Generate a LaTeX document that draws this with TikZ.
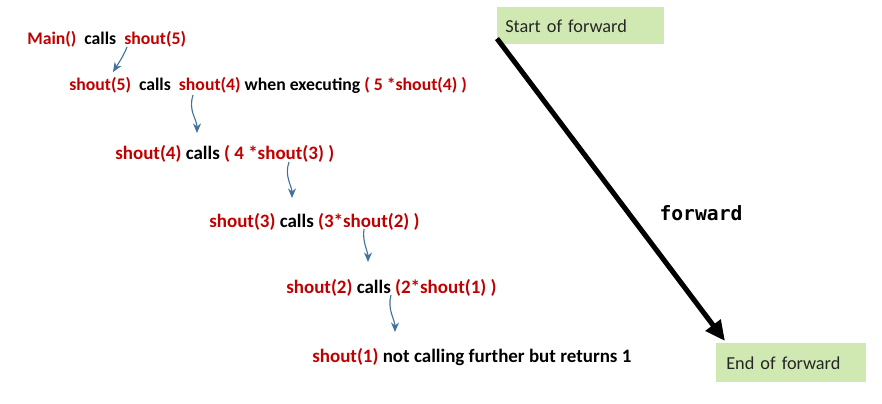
\documentclass[tikz,border=0pt]{standalone}
\usepackage{fontspec}
\setmainfont{Carlito}
\newfontfamily\codefont{DejaVu Sans Mono}
\usetikzlibrary{arrows.meta}
\definecolor{callred}{HTML}{C00000}
\definecolor{callblue}{HTML}{41719C}
\definecolor{boxgreen}{HTML}{D0E9B3}
\newcommand{\fn}[1]{\textcolor{callred}{#1}}
\tikzset{
  callline/.style={anchor=west, inner sep=0pt, font=\fontsize{12.6}{15}\selectfont\bfseries},
  bigline/.style={callline, font=\fontsize{13.5}{16}\selectfont\bfseries},
  callarrow/.style={draw=callblue, line width=0.8pt, -{Stealth[length=2.4mm,width=2mm]}},
  markbox/.style={rectangle, fill=boxgreen, anchor=north west, align=left, text=black!85,
    font=\fontsize{13}{15}\selectfont}
}
\begin{document}
\begin{tikzpicture}[x=0.025cm, y=-0.025cm]
  \useasboundingbox (0,0) rectangle (882,403);
  % the chain of calls
  \node (main)   [callline] at (27,39)  {\fn{Main()}~ calls~ \fn{shout(5)}};
  \node (call5)  [callline] at (69,85)  {\fn{shout(5)}~ calls~ \fn{shout(4)} when executing \fn{( 5 *shout(4) )}};
  \node (call4)  [bigline] at (115,154) {\fn{shout(4)} calls \fn{( 4 *shout(3) )}};
  \node (call3)  [bigline] at (209,222) {\fn{shout(3)} calls \fn{(3*shout(2) )}};
  \node (call2)  [bigline] at (286,288) {\fn{shout(2)} calls \fn{(2*shout(1) )}};
  \node (call1)  [bigline] at (312,357) {\fn{shout(1)} not calling further but returns 1};
  % where the small arrows start and end
  \coordinate (from5) at (127,47);  \coordinate (to5) at (113,72);
  \coordinate (from4) at (193,95);  \coordinate (to4) at (197,133);
  \coordinate (from3) at (289,162); \coordinate (to3) at (292,198);
  \coordinate (from2) at (364,229); \coordinate (to2) at (368,262);
  \coordinate (from1) at (391,295); \coordinate (to1) at (395,332);
  \draw [callarrow] (from5) .. controls +(-4,10) and +(5,-8) .. (to5);
  \draw [callarrow] (from4) .. controls +(-5,16) and +(0,-14) .. (to4);
  \draw [callarrow] (from3) .. controls +(-5,14) and +(0,-12) .. (to3);
  \draw [callarrow] (from2) .. controls +(-2,12) and +(0,-10) .. (to2);
  \draw [callarrow] (from1) .. controls +(-4,14) and +(0,-12) .. (to1);
  % forward direction
  \node (start)  [markbox, minimum width=4.175cm, minimum height=0.925cm, text width=3.775cm,
    inner xsep=0.2cm] at (497,7) {Start of forward};
  \node (finish) [markbox, minimum width=3.75cm, minimum height=0.975cm, text width=3.25cm,
    inner xsep=0.25cm] at (716,343) {End of forward};
  \draw [line width=3.6pt, -{Triangle[length=5mm,width=4.5mm]}]
    ([yshift=0.15cm]start.south west) -- ([xshift=0.225cm,yshift=0.05cm]finish.north west);
  \node (fwd) at (701,213) {\codefont\fontsize{14}{16}\selectfont\bfseries forward};
\end{tikzpicture}
\end{document}
